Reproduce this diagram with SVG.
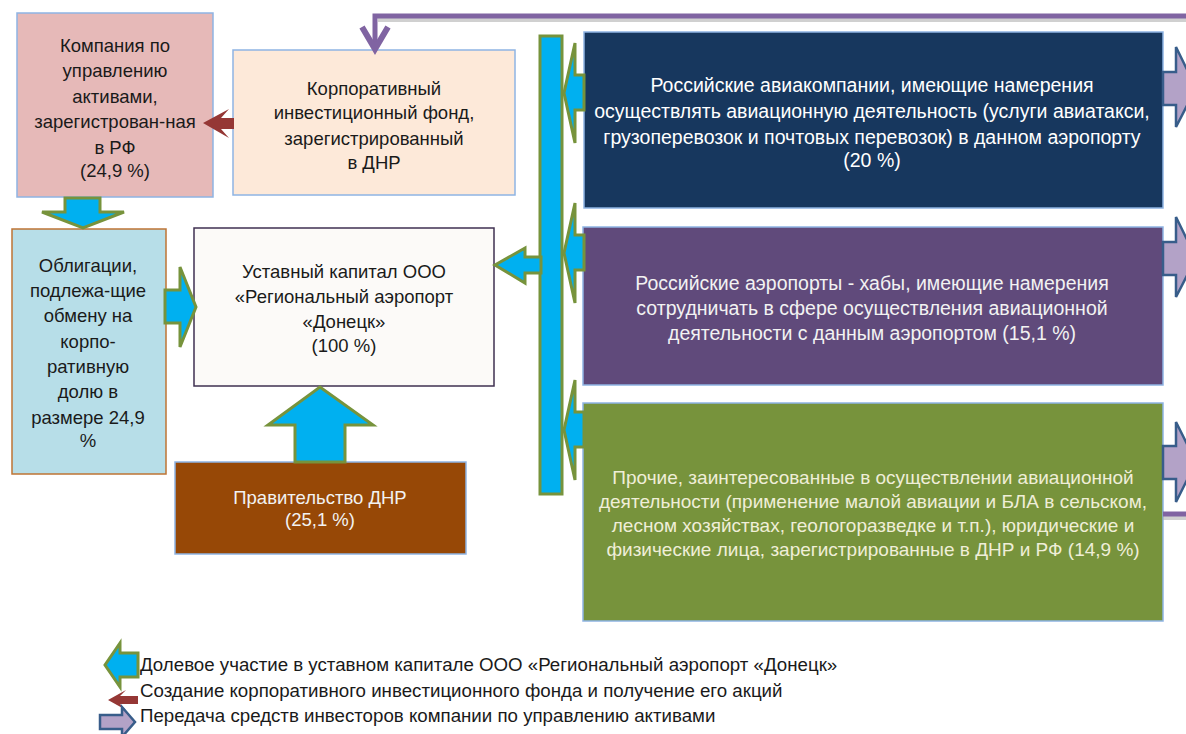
<svg xmlns="http://www.w3.org/2000/svg" width="1186" height="734" viewBox="0 0 1186 734">
<style>
text{font-family:"Liberation Sans",Arial,sans-serif;font-size:18.5px;text-anchor:middle;fill:#1a1a1a}
.r{font-size:19.5px}
.lt{fill:#ffffff}
.lt2{fill:#f2f2f2}
.lt3{fill:#efeed8}
.box{stroke:#8eb4e3;stroke-width:1.5}
.ba{fill:#00b0f0;stroke:#77933c;stroke-width:3;stroke-linejoin:miter}
.pa{fill:#b3a2c7;stroke:#385d8a;stroke-width:2.5}
.ra{fill:#953735}
.pl{fill:none;stroke:#8064a2;stroke-width:5}
.sh{fill:none;stroke:#b0b0b0;stroke-width:4;opacity:0.6}
.leg{text-anchor:start;font-size:18.7px}
</style>
<rect width="1186" height="734" fill="#ffffff"/>

<g id="asset-company">
  <rect class="box" x="17" y="13" width="196" height="184" fill="#e6b9b8"/>
  <text x="115" y="52">Компания по</text>
  <text x="115" y="77">управлению</text>
  <text x="115" y="103">активами,</text>
  <text x="115" y="128">зарегистрован-ная</text>
  <text x="115" y="154">в РФ</text>
  <text x="115" y="177">(24,9 %)</text>
</g>

<g id="fund">
  <rect class="box" x="233" y="50" width="282" height="145" fill="#fde9d9"/>
  <text x="374" y="95">Корпоративный</text>
  <text x="374" y="119">инвестиционный фонд,</text>
  <text x="374" y="145">зарегистрированный</text>
  <text x="374" y="169">в ДНР</text>
</g>

<g id="bonds">
  <rect x="12" y="229" width="154" height="245" fill="#b7dee8" stroke="#be7434" stroke-width="1.5"/>
  <text x="88" y="272">Облигации,</text>
  <text x="88" y="297">подлежа-щие</text>
  <text x="88" y="322">обмену на</text>
  <text x="88" y="348">корпо-</text>
  <text x="88" y="373">ративную</text>
  <text x="88" y="398">долю в</text>
  <text x="88" y="424">размере 24,9</text>
  <text x="88" y="447">%</text>
</g>

<g id="charter">
  <rect x="194" y="228" width="300" height="158" fill="#fcfaf8" stroke="#3f3151" stroke-width="1.5"/>
  <text x="344" y="278">Уставный капитал ООО</text>
  <text x="344" y="303">«Региональный аэропорт</text>
  <text x="344" y="328">«Донецк»</text>
  <text x="344" y="352">(100 %)</text>
</g>

<g id="government">
  <rect class="box" x="175" y="462" width="291" height="92" fill="#974806"/>
  <text class="lt2" x="320" y="504">Правительство ДНР</text>
  <text class="lt2" x="320" y="526">(25,1 %)</text>
</g>

<g id="airlines">
  <rect class="box" x="584" y="32" width="579" height="176" fill="#17375e"/>
  <text class="lt r" x="872" y="92">Российские авиакомпании, имеющие намерения</text>
  <text class="lt r" x="872" y="118">осуществлять авиационную деятельность (услуги авиатакси,</text>
  <text class="lt r" x="872" y="144">грузоперевозок и почтовых перевозок) в данном аэропорту</text>
  <text class="lt r" x="872" y="167">(20 %)</text>
</g>

<g id="hubs">
  <rect class="box" x="583" y="227" width="580" height="158" fill="#604a7b"/>
  <text class="lt2 r" x="872" y="290">Российские аэропорты - хабы, имеющие намерения</text>
  <text class="lt2 r" x="872" y="315">сотрудничать в сфере осуществления авиационной</text>
  <text class="lt2 r" x="872" y="340">деятельности с данным аэропортом (15,1 %)</text>
</g>

<g id="others">
  <rect class="box" x="583" y="403" width="580" height="218" fill="#77933c"/>
  <text class="lt3" x="873" y="484" style="font-size:19px">Прочие, заинтересованные в осуществлении авиационной</text>
  <text class="lt3" x="873" y="508" style="font-size:19px">деятельности (применение малой авиации и БЛА в сельском,</text>
  <text class="lt3" x="873" y="532" style="font-size:19px">лесном хозяйствах, геологоразведке и т.п.), юридические и</text>
  <text class="lt3" x="873" y="556" style="font-size:19px">физические лица, зарегистрированные в ДНР и РФ (14,9 %)</text>
</g>

<g id="connectors">
  <path class="sh" d="M378,20 H1186"/>
  <path class="pl" d="M1186,16 H375 V46"/>
  <path d="M362,27 L375,49 L388,27" fill="none" stroke="#8064a2" stroke-width="6" stroke-linejoin="miter"/>
  <path class="sh" d="M1163,518 H1186"/>
  <path class="pl" d="M1163,514 H1186"/>
  <path class="ra" d="M203,123 L229,109 L221,118 L234,118 L234,129 L221,129 L229,138 Z"/>
  <polygon class="ba" points="65,198 100,198 100,212 124,212 83,228 42,212 65,212"/>
  <polygon class="ba" points="165,290 180,290 180,267 196,307 180,347 180,323 165,323"/>
  <polygon class="ba" points="295,462 345,462 345,425 373,425 320,387 268,425 295,425"/>
  <rect class="ba" x="540" y="36" width="22" height="458"/>
  <polygon class="ba" points="541,257 525,257 525,248 495,265 525,283 525,273 541,273"/>
  <polygon class="ba" points="584,75 575,75 575,43 564,93 575,143 575,110 584,110"/>
  <polygon class="ba" points="584,235 575,235 575,203 564,253 575,303 575,270 584,270"/>
  <polygon class="ba" points="584,412 575,412 575,380 564,430 575,480 575,447 584,447"/>
  <polygon class="pa" points="1163,72 1176,72 1176,47 1196,88 1176,127 1176,105 1163,105"/>
  <polygon class="pa" points="1163,242 1176,242 1176,217 1196,258 1176,297 1176,275 1163,275"/>
  <polygon class="pa" points="1163,446 1176,446 1176,422 1196,462 1176,502 1176,479 1163,479"/>
</g>

<g id="legend">
  <polygon class="ba" points="138,653 120,653 120,643 105,665 120,687 120,677 138,677"/>
  <path class="ra" d="M108,700 L126,690 L120,696 L138,696 L138,704 L120,704 L126,710 Z"/>
  <polygon class="pa" points="100,715 122,715 122,707 135,722 122,737 122,729 100,729"/>
  <text class="leg" x="140" y="671">Долевое участие в уставном капитале ООО «Региональный аэропорт «Донецк»</text>
  <text class="leg" x="140" y="697">Создание  корпоративного инвестиционного фонда и получение его акций</text>
  <text class="leg" x="140" y="722">Передача средств инвесторов компании по управлению активами</text>
</g>
</svg>
